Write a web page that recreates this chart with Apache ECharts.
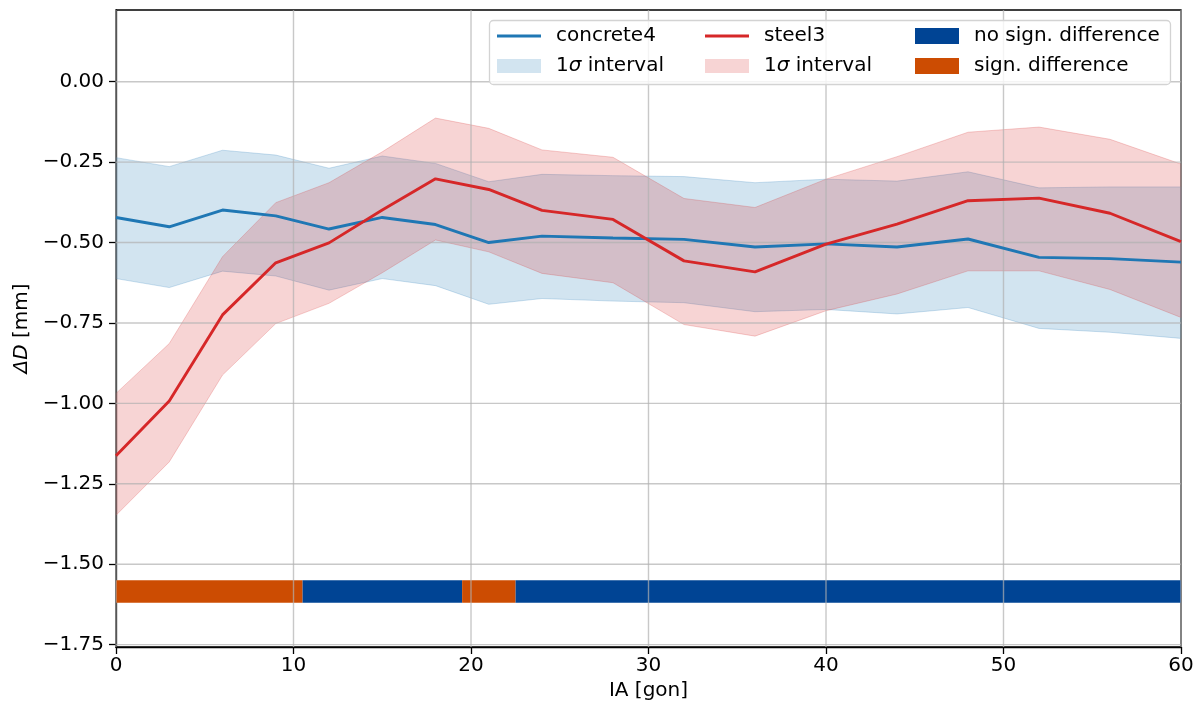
<!DOCTYPE html>
<html>
<head>
<meta charset="utf-8">
<script src="https://cdn.jsdelivr.net/npm/echarts@6/dist/echarts.min.js"></script>
<style>html,body{margin:0;padding:0;background:#fff}#c{width:1202px;height:706px}</style>
</head>
<body>
<div id="c"></div>
<script>
const xVals = [0, 3, 6, 9, 12, 15, 18, 21, 24, 28, 32, 36, 40, 44, 48, 52, 56, 60];
const concreteMean  = [-0.422, -0.451, -0.399, -0.417, -0.458, -0.422, -0.444, -0.500, -0.480, -0.486, -0.490, -0.514, -0.504, -0.514, -0.489, -0.546, -0.550, -0.561];
const concreteUpper = [-0.236, -0.264, -0.213, -0.228, -0.269, -0.231, -0.254, -0.311, -0.288, -0.292, -0.295, -0.314, -0.303, -0.309, -0.280, -0.330, -0.327, -0.327];
const concreteLower = [-0.612, -0.640, -0.589, -0.604, -0.648, -0.612, -0.634, -0.692, -0.674, -0.682, -0.687, -0.715, -0.708, -0.722, -0.702, -0.767, -0.779, -0.798];
const steelMean  = [-1.163, -0.993, -0.725, -0.563, -0.501, -0.399, -0.302, -0.335, -0.400, -0.428, -0.557, -0.591, -0.505, -0.443, -0.370, -0.362, -0.409, -0.497];
const steelUpper = [-0.969, -0.814, -0.544, -0.376, -0.314, -0.218, -0.113, -0.145, -0.212, -0.235, -0.363, -0.391, -0.303, -0.233, -0.157, -0.141, -0.179, -0.256];
const steelLower = [-1.348, -1.182, -0.912, -0.752, -0.689, -0.594, -0.492, -0.529, -0.596, -0.625, -0.755, -0.791, -0.712, -0.660, -0.588, -0.588, -0.646, -0.733];
const sigSegments    = [[0, 10.5], [19.5, 22.5]];
const nonSigSegments = [[10.5, 19.5], [22.5, 60]];
const sigBandRange = [-1.62, -1.55];
const yTicks = [-1.75, -1.5, -1.25, -1.0, -0.75, -0.5, -0.25, 0.0];
const xTicks = [0, 10, 20, 30, 40, 50, 60];
const yMin = -1.7575, yMax = 0.223;

const FONT = 'DejaVu Sans';
const FS = 20;

function bandRender(upper, lower, fill, stroke) {
  return function (params, api) {
    if (params.dataIndex !== 0) return null;
    const pts = [];
    for (let i = 0; i < xVals.length; i++) pts.push(api.coord([xVals[i], upper[i]]));
    for (let i = xVals.length - 1; i >= 0; i--) pts.push(api.coord([xVals[i], lower[i]]));
    return { type: 'polygon', shape: { points: pts }, style: { fill: fill, stroke: stroke, lineWidth: 1 } };
  };
}
function segRender(color) {
  return function (params, api) {
    const a = api.coord([api.value(0), sigBandRange[1]]);
    const b = api.coord([api.value(1), sigBandRange[0]]);
    return { type: 'rect', shape: { x: a[0], y: a[1], width: b[0] - a[0], height: b[1] - a[1] }, style: { fill: color } };
  };
}
function hGridRender(params, api) {
  const v = api.value(0);
  const a = api.coord([0, v]), b = api.coord([60, v]);
  return { type: 'line', shape: { x1: a[0], y1: a[1], x2: b[0], y2: b[1] }, style: { stroke: '#b0b0b0', lineWidth: 1.4, opacity: 0.7 } };
}
function vGridRender(params, api) {
  const v = api.value(0);
  const a = api.coord([v, yMin]), b = api.coord([v, yMax]);
  return { type: 'line', shape: { x1: a[0], y1: a[1], x2: b[0], y2: b[1] }, style: { stroke: '#b0b0b0', lineWidth: 1.4, opacity: 0.7 } };
}

const blueFill = 'rgba(31,119,180,0.2)', redFill = 'rgba(214,39,40,0.2)';
const textStyle = { fontFamily: FONT, fontSize: FS, color: '#000', lineHeight: 20, padding: [0, 0, 0, 10],
  rich: { s: { fontFamily: FONT, fontSize: FS, fontStyle: 'italic', color: '#000' } } };
function mkLegend(name, left, top, h, color) {
  return {
    left: left, top: top, orient: 'vertical', padding: 0, itemGap: 0,
    itemWidth: 44, itemHeight: h, selectedMode: false, z: 20,
    textStyle: textStyle,
    formatter: function (n) { return (n === 'bandC' || n === 'bandS') ? '1{s|σ} interval' : n; },
    data: [{ name: name, icon: 'rect', itemStyle: { color: color, borderWidth: 0 } }]
  };
}

const chart = echarts.init(document.getElementById('c'), null, { renderer: 'canvas' });
chart.setOption({
  animation: false,
  backgroundColor: '#fff',
  grid: { left: 116, right: 21, top: 10, bottom: 59, show: true, borderColor: '#000', borderWidth: 1.3, backgroundColor: 'transparent' },
  xAxis: {
    type: 'value', min: 0, max: 60, interval: 10,
    name: 'IA [gon]', nameLocation: 'middle', nameGap: 34,
    nameTextStyle: { fontFamily: FONT, fontSize: FS, color: '#000' },
    axisLine: { show: true, onZero: false, lineStyle: { color: '#000', width: 1.3 } },
    axisTick: { show: true, inside: false, length: 7, lineStyle: { color: '#000', width: 1.3 } },
    axisLabel: { fontFamily: FONT, fontSize: FS, color: '#000', margin: 9 },
    splitLine: { show: false }
  },
  yAxis: {
    type: 'value', min: yMin, max: yMax,
    name: '{i|ΔD} [mm]', nameLocation: 'middle', nameGap: 84, nameRotate: 90,
    nameTextStyle: { fontFamily: FONT, fontSize: FS, color: '#000', rich: { i: { fontFamily: FONT, fontSize: FS, fontStyle: 'italic', color: '#000' } } },
    axisLine: { show: true, onZero: false, lineStyle: { color: '#000', width: 1.3 } },
    axisTick: { show: true, inside: false, length: 7, customValues: yTicks, lineStyle: { color: '#000', width: 1.3 } },
    axisLabel: { fontFamily: FONT, fontSize: FS, color: '#000', margin: 12, customValues: yTicks,
      formatter: function (v) { return v.toFixed(2).replace('-', '\u2212'); } },
    splitLine: { show: false }
  },
  legend: [
    mkLegend('concrete4', 497, 26, 3, '#1f77b4'),
    mkLegend('bandC', 497, 56, 14, blueFill),
    mkLegend('steel3', 705, 26, 3, '#d62728'),
    mkLegend('bandS', 705, 56, 14, redFill),
    mkLegend('no sign. difference', 915, 26, 16, '#004494'),
    mkLegend('sign. difference', 915, 56, 16, '#cc4c02')
  ],
  graphic: [{
    type: 'rect', z: 15, silent: true,
    shape: { x: 489.5, y: 20.5, width: 681, height: 64, r: 4 },
    style: { fill: 'rgba(255,255,255,0.8)', stroke: '#d3d3d3', lineWidth: 1.3 }
  }],
  series: [
    { type: 'custom', name: 'bandC', z: 1, silent: true, itemStyle: { color: blueFill },
      renderItem: bandRender(concreteUpper, concreteLower, blueFill, 'rgba(31,119,180,0.22)'),
      data: xVals.map((x, i) => [x, concreteLower[i], concreteUpper[i]]), encode: { x: 0, y: [1, 2] } },
    { type: 'custom', name: 'bandS', z: 1, silent: true, itemStyle: { color: redFill },
      renderItem: bandRender(steelUpper, steelLower, redFill, 'rgba(214,39,40,0.22)'),
      data: xVals.map((x, i) => [x, steelLower[i], steelUpper[i]]), encode: { x: 0, y: [1, 2] } },
    { type: 'custom', name: 'no sign. difference', z: 1, silent: true, itemStyle: { color: '#004494' },
      renderItem: segRender('#004494'),
      data: nonSigSegments.map(s => [s[0], s[1], sigBandRange[0], sigBandRange[1]]), encode: { x: [0, 1], y: [2, 3] } },
    { type: 'custom', name: 'sign. difference', z: 1, silent: true, itemStyle: { color: '#cc4c02' },
      renderItem: segRender('#cc4c02'),
      data: sigSegments.map(s => [s[0], s[1], sigBandRange[0], sigBandRange[1]]), encode: { x: [0, 1], y: [2, 3] } },
    { type: 'custom', name: 'hgrid', z: 2, silent: true, renderItem: hGridRender,
      data: yTicks.map(v => [v]), encode: { y: 0 } },
    { type: 'custom', name: 'vgrid', z: 2, silent: true, renderItem: vGridRender,
      data: xTicks.map(v => [v]), encode: { x: 0 } },
    { type: 'line', name: 'concrete4', z: 5, symbol: 'none', silent: true,
      itemStyle: { color: '#1f77b4' }, lineStyle: { color: '#1f77b4', width: 2.9 },
      data: xVals.map((x, i) => [x, concreteMean[i]]) },
    { type: 'line', name: 'steel3', z: 5, symbol: 'none', silent: true,
      itemStyle: { color: '#d62728' }, lineStyle: { color: '#d62728', width: 2.9 },
      data: xVals.map((x, i) => [x, steelMean[i]]) }
  ]
});
</script>
</body>
</html>
